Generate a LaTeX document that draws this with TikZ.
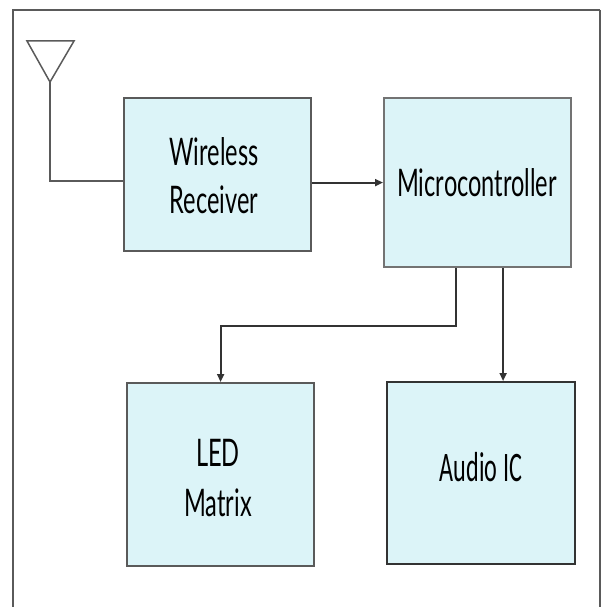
\documentclass[tikz,border=0pt]{standalone}
\usepackage{fontspec}
\setmainfont{Lato}[FakeStretch=0.62]
\newfontfamily\calfont{Carlito}[FakeStretch=0.575]
\usetikzlibrary{arrows.meta}
\definecolor{boxfill}{HTML}{DCF4F8}
\definecolor{edgegrey}{HTML}{5A5A5A}
\definecolor{wiregrey}{HTML}{333333}
\tikzset{
  blk/.style={draw=edgegrey, line width=2.2pt, fill=boxfill, inner sep=0pt, anchor=north west, align=center},
  lbl/.style={text=black, align=center, font=\fontsize{38}{48}\selectfont},
  wire/.style={draw=wiregrey, line width=1.8pt},
  arr/.style={wire, -{Triangle[length=8pt,width=7pt]}},
}
\begin{document}
\begin{tikzpicture}[x=1pt,y=-1pt]
\useasboundingbox (0,0) rectangle (602,607);
% frame
\draw[draw=edgegrey, line width=1.5pt] (13,607) -- (13,10) -- (600,10);
\draw[draw=edgegrey, line width=2.5pt] (600,10) -- (600,607);
% blocks
\node[blk, minimum width=187pt, minimum height=153pt] (wr) at (123,97) {};
\node[lbl] (wrt) at (214,176) {Wireless\\Receiver};
\node[blk, draw=edgegrey!85, minimum width=187pt, minimum height=169pt] (mc) at (383,97) {};
\node[lbl] (mct) at (477,183) {Microcontroller};
\node[blk, minimum width=187pt, minimum height=183pt] (led) at (126,382) {};
\node[lbl, font=\fontsize{38}{50}\selectfont] (ledt) at (218,478) {LED\\Matrix};
\node[blk, draw=wiregrey, minimum width=188pt, minimum height=182pt] (aud) at (386,381) {};
\node[lbl, font=\calfont\fontsize{42}{50}\selectfont] (audt) at (481,467) {Audio IC};
% antenna
\coordinate (ant) at (50,82);
\draw[wire, draw=edgegrey, line width=1.5pt] (27,41) -- (74,41) -- (ant) -- cycle;
\draw[wire, draw=edgegrey] (ant) |- (wr.west |- 0,181);
% connections
\draw[arr] (wr.east |- mc.west) -- (mc.west);
\draw[arr] ([xshift=-21.5pt]mc.south) -- ++(0,58) -| (led.north);
\draw[arr] ([xshift=25.5pt]mc.south) coordinate (s2) -- (s2 |- aud.north);
\end{tikzpicture}
\end{document}
